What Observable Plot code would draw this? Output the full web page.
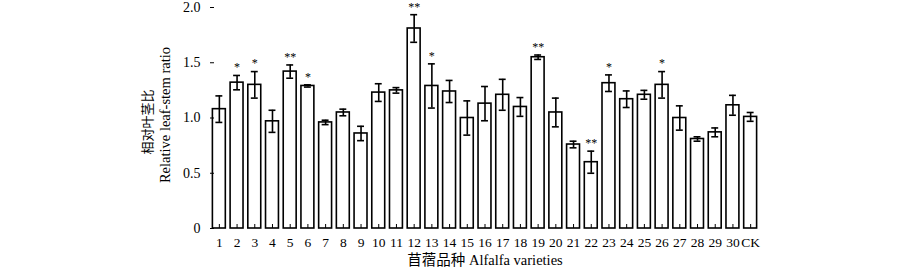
<!DOCTYPE html>
<html><head><meta charset="utf-8">
<script src="https://cdn.jsdelivr.net/npm/d3@7"></script>
<script src="https://cdn.jsdelivr.net/npm/@observablehq/plot@0.6"></script>
<style>
html,body{margin:0;padding:0;background:#fff;}
svg{font-family:"Liberation Serif","Noto Sans CJK SC",serif;}
</style></head>
<body><div id="chart"></div>
<script>
const categories = ["1","2","3","4","5","6","7","8","9","10","11","12","13","14","15","16","17","18","19","20","21","22","23","24","25","26","27","28","29","30","CK"];
const values = [1.08,1.32,1.30,0.97,1.42,1.29,0.96,1.05,0.86,1.23,1.25,1.81,1.29,1.24,1.00,1.13,1.21,1.10,1.55,1.05,0.76,0.60,1.315,1.17,1.21,1.30,1.00,0.81,0.87,1.115,1.01];
const errors = [0.12,0.065,0.12,0.10,0.06,0.01,0.02,0.03,0.065,0.08,0.025,0.125,0.20,0.10,0.155,0.155,0.14,0.085,0.02,0.13,0.03,0.10,0.075,0.075,0.04,0.12,0.11,0.02,0.04,0.09,0.04];
const marks = ["","*","*","","**","*","","","","","","**","*","","","","","","**","","","**","*","","","*","","","","",""];
const yTicks = [0,0.5,1,1.5,2];

const data = categories.map((c,i)=>({cat:c, v:values[i], lo:values[i]-errors[i], hi:values[i]+errors[i], sig:marks[i]}));

const plot = Plot.plot({
  width: 900, height: 267,
  marginLeft: 210, marginRight: 141, marginTop: 7, marginBottom: 39,
  style: {fontFamily: '"Liberation Serif","Noto Sans CJK SC",serif', fontSize: "13px", color: "#000", background: "#fff"},
  x: {domain: categories, padding: 0.27, paddingOuter: 0.135, round: false, label: null},
  y: {domain: [0,2], label: null},
  marks: [
    Plot.barY(data, {x:"cat", y:"v", fill:"#fff", stroke:"#000", strokeWidth:1.6}),
    Plot.ruleX(data, {x:"cat", y1:"lo", y2:"hi", stroke:"#000", strokeWidth:1.6}),
    Plot.tickY(data, {x:"cat", y:"hi", stroke:"#000", strokeWidth:1.6, insetLeft:3, insetRight:3}),
    Plot.tickY(data, {x:"cat", y:"lo", stroke:"#000", strokeWidth:1.6, insetLeft:3, insetRight:3}),
    Plot.text(data.filter(d=>d.sig), {x:"cat", y:"hi", text:"sig", dy:-8, fontSize:12, fill:"#000"}),
    Plot.axisY({ticks: yTicks, tickFormat: d => d===0 ? "0" : d3.format(".1f")(d), tickSize: -4, tickPadding: 14, line: true, fontSize: 14, label: null}),
    Plot.axisX({tickSize: -4, tickPadding: 13, line: true, fontSize: 13.5, label: null}),
    Plot.text(["相对叶茎比"], {frameAnchor:"left", rotate:-90, textAnchor:"middle", dx:-63, dy:4, fontSize:13, fill:"#000", fontFamily:'"Noto Sans CJK SC"'}),
    Plot.text(["Relative leaf-stem ratio"], {frameAnchor:"left", rotate:-90, textAnchor:"middle", dx:-45, dy:-3, fontSize:14.5, fill:"#000"}),
    Plot.text(["苜蓿品种 Alfalfa varieties"], {frameAnchor:"bottom", dy:36, fontSize:14.5, fill:"#000"})
  ]
});
document.getElementById("chart").appendChild(plot);
</script></body></html>
